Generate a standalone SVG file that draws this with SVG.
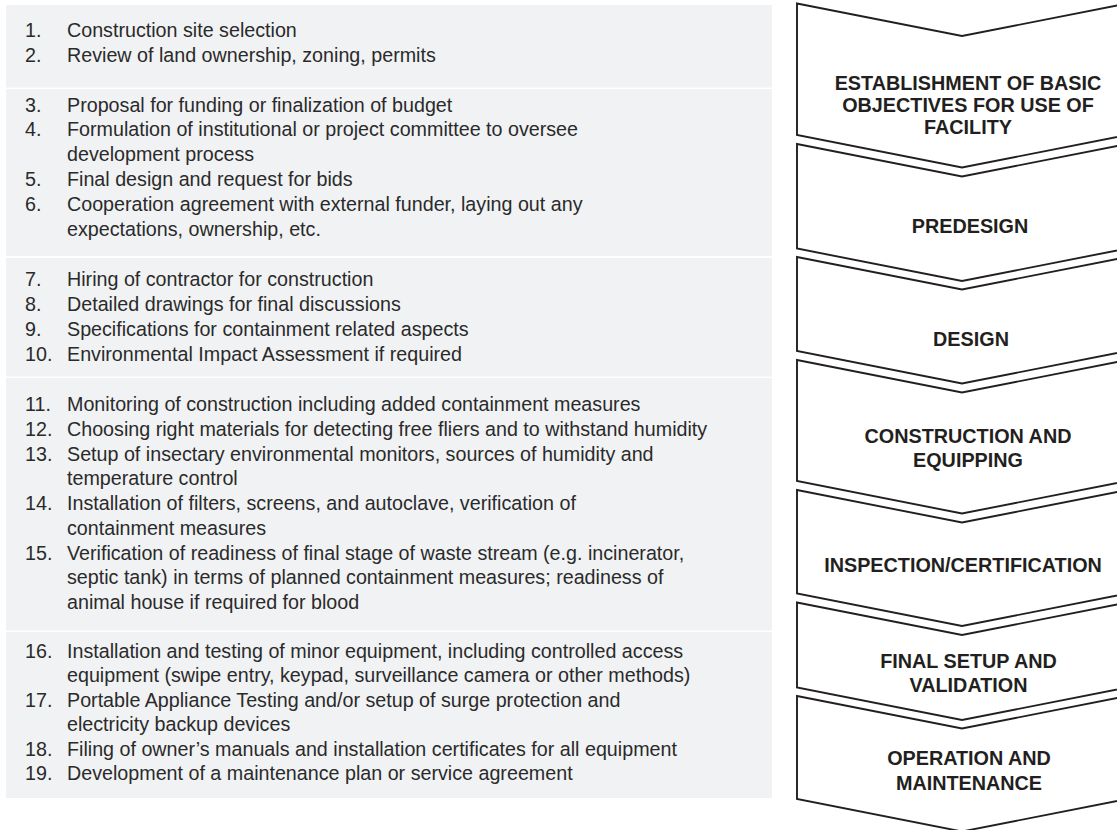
<svg xmlns="http://www.w3.org/2000/svg" width="1117" height="830" viewBox="0 0 1117 830">
<style>
.panel{fill:#f1f2f4}
.t{font-family:"Liberation Sans",Arial,sans-serif;font-size:19.7px;fill:#2a2a2a}
.chev{fill:#ffffff;stroke:#231f20;stroke-width:1.9;stroke-linejoin:miter}
.h{font-family:"Liberation Sans",Arial,sans-serif;font-size:19.8px;font-weight:bold;fill:#231f20;text-anchor:middle}
</style>
<rect width="1117" height="830" fill="#ffffff"/>
<g id="steps">
<g id="group1">
<rect class="panel" x="6" y="5" width="766" height="82.5"/>
<text class="t" x="25" y="37">1.</text><text class="t" x="67" y="37">Construction site selection</text>
<text class="t" x="25" y="61.7">2.</text><text class="t" x="67" y="61.7">Review of land ownership, zoning, permits</text>
</g>
<g id="group2">
<rect class="panel" x="6" y="89" width="766" height="167"/>
<text class="t" x="25" y="111.5">3.</text><text class="t" x="67" y="111.5">Proposal for funding or finalization of budget</text>
<text class="t" x="25" y="136.3">4.</text><text class="t" x="67" y="136.3">Formulation of institutional or project committee to oversee</text>
<text class="t" x="67" y="161">development process</text>
<text class="t" x="25" y="186">5.</text><text class="t" x="67" y="186">Final design and request for bids</text>
<text class="t" x="25" y="211">6.</text><text class="t" x="67" y="211">Cooperation agreement with external funder, laying out any</text>
<text class="t" x="67" y="235.7">expectations, ownership, etc.</text>
</g>
<g id="group3">
<rect class="panel" x="6" y="258" width="766" height="118.5"/>
<text class="t" x="25" y="285.5">7.</text><text class="t" x="67" y="285.5">Hiring of contractor for construction</text>
<text class="t" x="25" y="310.5">8.</text><text class="t" x="67" y="310.5">Detailed drawings for final discussions</text>
<text class="t" x="25" y="335.5">9.</text><text class="t" x="67" y="335.5">Specifications for containment related aspects</text>
<text class="t" x="25" y="360.5">10.</text><text class="t" x="67" y="360.5">Environmental Impact Assessment if required</text>
</g>
<g id="group4">
<rect class="panel" x="6" y="378" width="766" height="252.5"/>
<text class="t" x="25" y="410.5">11.</text><text class="t" x="67" y="410.5">Monitoring of construction including added containment measures</text>
<text class="t" x="25" y="435.5">12.</text><text class="t" x="67" y="435.5">Choosing right materials for detecting free fliers and to withstand humidity</text>
<text class="t" x="25" y="460.5">13.</text><text class="t" x="67" y="460.5">Setup of insectary environmental monitors, sources of humidity and</text>
<text class="t" x="67" y="485">temperature control</text>
<text class="t" x="25" y="509.5">14.</text><text class="t" x="67" y="509.5">Installation of filters, screens, and autoclave, verification of</text>
<text class="t" x="67" y="534.5">containment measures</text>
<text class="t" x="25" y="559.5">15.</text><text class="t" x="67" y="559.5">Verification of readiness of final stage of waste stream (e.g. incinerator,</text>
<text class="t" x="67" y="584">septic tank) in terms of planned containment measures; readiness of</text>
<text class="t" x="67" y="608.5">animal house if required for blood</text>
</g>
<g id="group5">
<rect class="panel" x="6" y="632" width="766" height="166"/>
<text class="t" x="25" y="657.5">16.</text><text class="t" x="67" y="657.5">Installation and testing of minor equipment, including controlled access</text>
<text class="t" x="67" y="682">equipment (swipe entry, keypad, surveillance camera or other methods)</text>
<text class="t" x="25" y="706.5">17.</text><text class="t" x="67" y="706.5">Portable Appliance Testing and/or setup of surge protection and</text>
<text class="t" x="67" y="731">electricity backup devices</text>
<text class="t" x="25" y="755.5">18.</text><text class="t" x="67" y="755.5">Filing of owner’s manuals and installation certificates for all equipment</text>
<text class="t" x="25" y="780">19.</text><text class="t" x="67" y="780">Development of a maintenance plan or service agreement</text>
</g>
</g>
<g id="phases">
<g id="phase1">
<path class="chev" d="M797,3.5 L962,36 L1127,3.5 L1127,135 L962,167.5 L797,135 Z"/>
<text class="h" x="968" y="90">ESTABLISHMENT OF BASIC</text>
<text class="h" x="968" y="112.3">OBJECTIVES FOR USE OF</text>
<text class="h" x="968" y="134.3">FACILITY</text>
</g>
<g id="phase2">
<path class="chev" d="M797,144 L962,176.5 L1127,144 L1127,248.5 L962,281 L797,248.5 Z"/>
<text class="h" x="970" y="233.3">PREDESIGN</text>
</g>
<g id="phase3">
<path class="chev" d="M797,257 L962,289.5 L1127,257 L1127,351 L962,383.5 L797,351 Z"/>
<text class="h" x="971" y="345.7">DESIGN</text>
</g>
<g id="phase4">
<path class="chev" d="M797,360 L962,392.5 L1127,360 L1127,481 L962,513.5 L797,481 Z"/>
<text class="h" x="968" y="443.3">CONSTRUCTION AND</text>
<text class="h" x="968" y="466.7">EQUIPPING</text>
</g>
<g id="phase5">
<path class="chev" d="M797,490 L962,522.5 L1127,490 L1127,593.5 L962,626 L797,593.5 Z"/>
<text class="h" x="963" y="572.3">INSPECTION/CERTIFICATION</text>
</g>
<g id="phase6">
<path class="chev" d="M797,602.5 L962,635 L1127,602.5 L1127,687.5 L962,720 L797,687.5 Z"/>
<text class="h" x="968.5" y="668.3">FINAL SETUP AND</text>
<text class="h" x="968.5" y="691.7">VALIDATION</text>
</g>
<g id="phase7">
<path class="chev" d="M797,696 L962,728.5 L1127,696 L1127,799 L962,831.5 L797,799 Z"/>
<text class="h" x="969" y="765">OPERATION AND</text>
<text class="h" x="969" y="790">MAINTENANCE</text>
</g>
</g>
<g id="connectors"/>
</svg>
